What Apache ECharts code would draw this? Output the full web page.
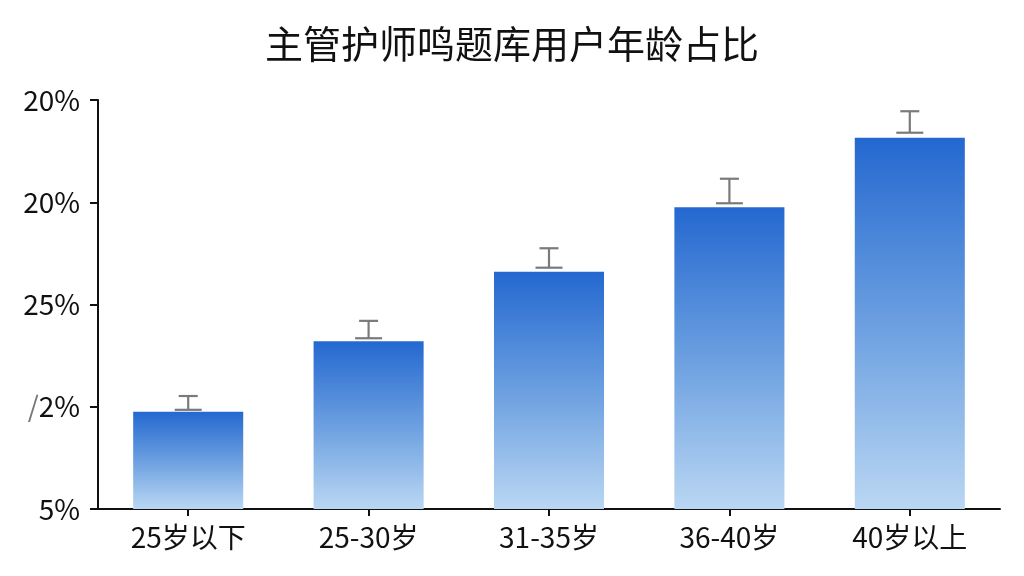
<!DOCTYPE html>
<html>
<head>
<meta charset="utf-8">
<script src="https://cdn.jsdelivr.net/npm/echarts@6/dist/echarts.min.js"></script>
<style>
html,body{margin:0;padding:0;background:#fff;}
#chart{width:1024px;height:576px;}
</style>
</head>
<body>
<div id="chart"></div>
<script>
var title = '主管护师鸣题库用户年龄占比';
var categories = ['25岁以下', '25-30岁', '31-35岁', '36-40岁', '40岁以上'];
var yTickLabels = ['5%', '{g|/}2%', '25%', '20%', '20%'];
var barValues = [0.95, 1.64, 2.32, 2.95, 3.63];
var errLow = [0.97, 1.67, 2.36, 2.99, 3.68];
var errHigh = [1.105, 1.84, 2.55, 3.23, 3.89];

var chart = echarts.init(document.getElementById('chart'));
var fontFam = '"Noto Sans CJK SC", "Noto Sans", sans-serif';
chart.setOption({
  backgroundColor: '#ffffff',
  animation: false,
  title: {
    text: title,
    left: 'center',
    top: 20,
    textStyle: { fontSize: 38, fontWeight: 'normal', color: '#111', fontFamily: fontFam }
  },
  grid: { left: 98, right: 24, top: 100, bottom: 67, containLabel: false },
  xAxis: {
    type: 'category',
    data: categories,
    axisLine: { show: true, lineStyle: { color: '#111', width: 2 } },
    axisTick: { show: true, alignWithLabel: true, length: 7, lineStyle: { color: '#111', width: 2 } },
    axisLabel: { fontSize: 28, color: '#111', margin: 14, fontFamily: fontFam }
  },
  yAxis: {
    type: 'value',
    min: 0, max: 4, interval: 1,
    splitLine: { show: false },
    axisLine: { show: true, lineStyle: { color: '#111', width: 2 } },
    axisTick: { show: true, length: 8, lineStyle: { color: '#111', width: 2 } },
    axisLabel: {
      fontSize: 28, color: '#111', margin: 18, fontFamily: fontFam,
      formatter: function (v) { return yTickLabels[Math.round(v)]; },
      rich: { g: { color: '#777', fontSize: 28, fontFamily: fontFam } }
    }
  },
  series: [
    {
      type: 'bar',
      data: barValues,
      barWidth: '61%',
      itemStyle: {
        color: new echarts.graphic.LinearGradient(0, 0, 0, 1, [
          { offset: 0, color: '#2468d0' },
          { offset: 0.5, color: '#6b9fe0' },
          { offset: 1, color: '#bad7f3' }
        ])
      },
      z: 2
    },
    {
      type: 'custom',
      data: categories.map(function (c, i) { return [i, errLow[i], errHigh[i]]; }),
      renderItem: function (params, api) {
        var p1 = api.coord([api.value(0), api.value(1)]);
        var p2 = api.coord([api.value(0), api.value(2)]);
        var style = { stroke: '#7a7a7a', lineWidth: 2.2, fill: null };
        return {
          type: 'group',
          children: [
            { type: 'line', shape: { x1: p1[0], y1: p1[1], x2: p2[0], y2: p2[1] }, style: style },
            { type: 'line', shape: { x1: p1[0] - 13.5, y1: p1[1], x2: p1[0] + 13.5, y2: p1[1] }, style: style },
            { type: 'line', shape: { x1: p2[0] - 9.5, y1: p2[1], x2: p2[0] + 9.5, y2: p2[1] }, style: style }
          ]
        };
      },
      z: 5
    }
  ]
});
</script>
</body>
</html>
